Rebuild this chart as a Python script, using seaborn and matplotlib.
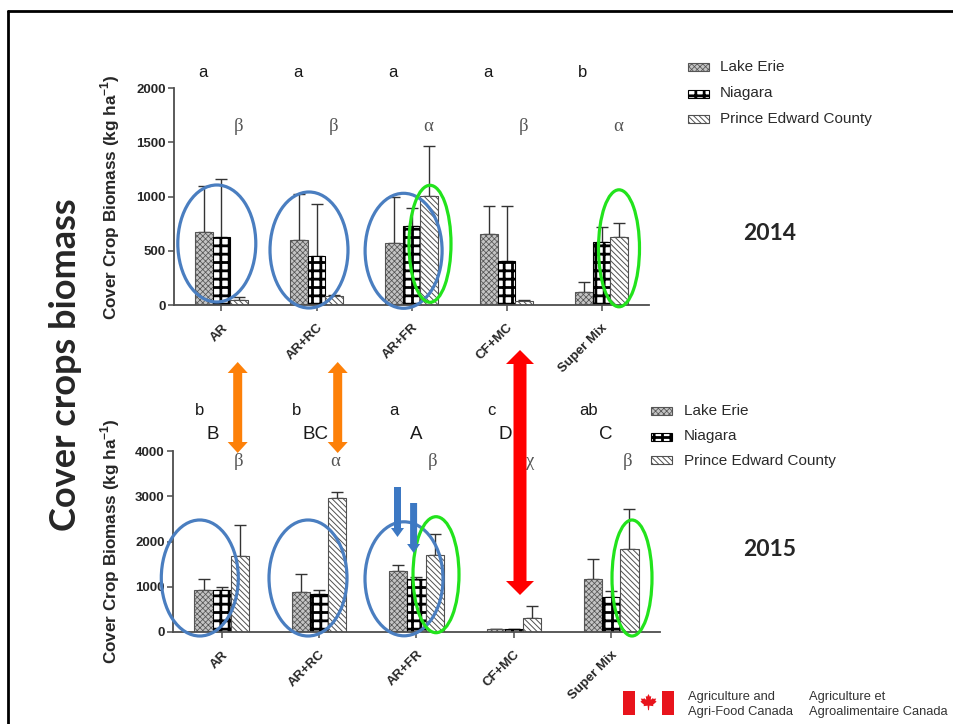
import numpy as np
import pandas as pd
import matplotlib
matplotlib.use("Agg")
import matplotlib.pyplot as plt
import seaborn as sns
from matplotlib.patches import Ellipse, Polygon, Rectangle

# ---------------- data ----------------
treatments = ["AR", "AR+RC", "AR+FR", "CF+MC", "Super Mix"]
locations = ["Lake Erie", "Niagara", "Prince Edward County"]

erie_2014 = [677, 600, 570, 655, 117]
niagara_2014 = [630, 455, 730, 410, 585]
pec_2014 = [46, 83, 1010, 37, 625]
erie_2014_sd = [423, 425, 424, 262, 98]
niagara_2014_sd = [530, 477, 162, 507, 138]
pec_2014_sd = [31, 10, 458, 5, 129]

erie_2015 = [937, 878, 1343, 59, 1166]
niagara_2015 = [922, 834, 1166, 59, 775]
pec_2015 = [1683, 2952, 1697, 310, 1845]
erie_2015_sd = [229, 406, 133, 10, 450]
niagara_2015_sd = [74, 103, 52, 10, 125]
pec_2015_sd = [679, 133, 473, 258, 863]

letters_2014 = ["a", "a", "a", "a", "b"]
greek_2014 = ["β", "β", "α", "β", "α"]
letters_2015 = ["b", "b", "a", "c", "ab"]
upper_2015 = ["B", "BC", "A", "D", "C"]
greek_2015 = ["β", "α", "β", "χ", "β"]

yticks_2014 = [0, 500, 1000, 1500, 2000]
yticks_2015 = [0, 1000, 2000, 3000, 4000]

# horizontal offsets of the 2015 upper-case letters (layout only)
upper_dx = [-0.09, -0.04, 0.0, -0.09, -0.06]

# ---------------- style ----------------
sns.set_style("white")
plt.rcParams["font.family"] = ["Liberation Sans", "DejaVu Sans"]
plt.rcParams["mathtext.fontset"] = "custom"
plt.rcParams["mathtext.rm"] = "Liberation Sans"
plt.rcParams["mathtext.bf"] = "Liberation Sans:bold"

W, H = 954, 724
fig = plt.figure(figsize=(W / 100, H / 100), dpi=100)
fig.patch.set_facecolor("white")


def fx(x):
    return x / W


def fy(y):
    return 1 - y / H


styles = [
    dict(fc="#c4c4c4", ec="#555555", hatch="xxxxxx", hlw=0.55),
    dict(fc="white", ec="black", hatch="++", hlw=2.0),
    dict(fc="white", ec="#505050", hatch="\\\\\\\\\\\\", hlw=0.7),
]


def style_patch(p, st):
    p.set_facecolor(st["fc"])
    p.set_edgecolor(st["ec"])
    p.set_hatch(st["hatch"])
    p.set_linewidth(0.8)
    if hasattr(p, "set_hatch_linewidth"):
        p.set_hatch_linewidth(st["hlw"])


def panel(ax, erie, nia, pec, sds, ymax, yticks):
    df = pd.DataFrame({
        "Treatment": treatments * 3,
        "Location": np.repeat(locations, len(treatments)),
        "Biomass": np.concatenate([erie, nia, pec]),
    })
    sns.barplot(data=df, x="Treatment", y="Biomass", hue="Location",
                order=treatments, hue_order=locations, width=0.56,
                errorbar=None, legend=False, ax=ax,
                palette=["#c4c4c4", "white", "white"])
    bar_conts = list(ax.containers)[:3]
    for i, cont in enumerate(bar_conts):
        for p in cont:
            style_patch(p, styles[i])
        xs = [p.get_x() + p.get_width() / 2 for p in cont]
        hs = [p.get_height() for p in cont]
        ax.errorbar(xs, hs, yerr=[np.zeros(len(hs)), sds[i]], fmt="none",
                    ecolor="#333333", elinewidth=1, capsize=4.5, capthick=1,
                    zorder=0.5)
    ax.set_xlim(-0.5, 4.5)
    ax.set_ylim(0, ymax)
    ax.set_yticks(yticks)
    ax.set_yticklabels([str(t) for t in yticks], fontweight="bold", fontsize=9.5)
    ax.set_xticks(range(len(treatments)))
    ax.set_xticklabels(treatments, rotation=45, ha="right",
                       rotation_mode="anchor", fontweight="bold", fontsize=9.5)
    ax.set_xlabel("")
    ax.set_ylabel(r"Cover Crop Biomass (kg ha$^{\mathbf{-1}}$)",
                  fontweight="bold", fontsize=12.3)
    for s in ["top", "right"]:
        ax.spines[s].set_visible(False)
    for s in ["left", "bottom"]:
        ax.spines[s].set_color("#4d4d4d")
        ax.spines[s].set_linewidth(1.3)
    ax.tick_params(axis="both", length=4, width=1.1, color="#4d4d4d",
                   left=True, bottom=True, pad=2)
    ax.tick_params(axis="x", pad=8)
    ax.set_facecolor("none")


# top panel (2014)
ax1 = fig.add_axes([fx(174), fy(305), fx(649) - fx(174), fy(88.3) - fy(305)])
panel(ax1, erie_2014, niagara_2014, pec_2014,
      [erie_2014_sd, niagara_2014_sd, pec_2014_sd], 2000, yticks_2014)
ax1.yaxis.set_label_coords((122 - 174) / 475, 0.5)

# bottom panel (2015)
ax2 = fig.add_axes([fx(173), fy(632), fx(660) - fx(173), fy(451) - fy(632)])
panel(ax2, erie_2015, niagara_2015, pec_2015,
      [erie_2015_sd, niagara_2015_sd, pec_2015_sd], 4000, yticks_2015)
ax2.yaxis.set_label_coords((122 - 173) / 487, 0.5)

# significance letters
serif = ["Liberation Serif", "DejaVu Serif"]
for i in range(len(treatments)):
    ax1.text(i - 0.2, 2150, letters_2014[i], ha="center", va="center",
             fontsize=12, color="#1a1a1a", clip_on=False)
    ax1.text(i + 0.18, 1643, greek_2014[i], ha="center", va="center",
             fontsize=13.5, color="#555555", family=serif, clip_on=False)
    ax2.text(i - 0.23, 4884, letters_2015[i], ha="center", va="center",
             fontsize=12, color="#1a1a1a", clip_on=False)
    ax2.text(i + upper_dx[i], 4354, upper_2015[i], ha="center", va="center",
             fontsize=13.5, color="#1a1a1a", clip_on=False)
    ax2.text(i + 0.17, 3779, greek_2015[i], ha="center", va="center",
             fontsize=13.5, color="#555555", family=serif, clip_on=False)

# legends (manual)
def legend(x_patch, x_text, ys):
    for i, (lab, y) in enumerate(zip(locations, ys)):
        r = Rectangle((fx(x_patch), fy(y + 4)), 21 / W, 8 / H,
                      transform=fig.transFigure)
        style_patch(r, styles[i])
        fig.add_artist(r)
        fig.text(fx(x_text), fy(y), lab, ha="left", va="center",
                 fontsize=11, color="#2a2a2a")


legend(688, 720, [67, 93.5, 118.5])
legend(651, 684, [411, 436.5, 460.5])

# ellipses (figure pixel coords)
blue = "#4a7ec0"
green = "#22e31c"
ellipses = [
    (216.8, 243.5, 78, 117, blue), (309, 250, 78, 116, blue),
    (403.6, 250.8, 77, 115, blue), (430, 243.8, 42, 117, green),
    (619, 248.3, 41, 117, green),
    (199.8, 578, 77, 116, blue), (308, 578, 78, 116, blue),
    (404, 578.8, 78, 114, blue), (436, 574.7, 46, 116, green),
    (632, 578, 40, 116, green),
]
for cx, cy, w, h, c in ellipses:
    fig.add_artist(Ellipse((fx(cx), fy(cy)), w / W, h / H, fill=False,
                           ec=c, lw=2.3, transform=fig.transFigure, zorder=5))


def arrow(cx, y0, y1, sw, hw, hl, color, double=True):
    if double:
        pts = [(cx, y0), (cx + hw, y0 + hl), (cx + sw, y0 + hl),
               (cx + sw, y1 - hl), (cx + hw, y1 - hl), (cx, y1),
               (cx - hw, y1 - hl), (cx - sw, y1 - hl), (cx - sw, y0 + hl),
               (cx - hw, y0 + hl)]
    else:
        pts = [(cx + sw, y0), (cx + sw, y1 - hl), (cx + hw, y1 - hl),
               (cx, y1), (cx - hw, y1 - hl), (cx - sw, y1 - hl), (cx - sw, y0)]
    fig.add_artist(Polygon([(fx(x), fy(y)) for x, y in pts], closed=True,
                           fc=color, ec="none", transform=fig.transFigure,
                           zorder=6))


arrow(237.7, 362, 453, 4.5, 10, 11, "#fd8008")
arrow(337.7, 362, 453, 4.5, 10, 11, "#fd8008")
arrow(520, 350, 595, 6.5, 14, 14, "#ff0000")
arrow(397.5, 487, 537, 3.5, 6.5, 9, "#3c78c3", double=False)
arrow(413.6, 503, 553, 3.5, 6.5, 9, "#3c78c3", double=False)

# slide texts
lato = ["Lato", "DejaVu Sans"]
fig.text(fx(66), fy(365), "Cover crops biomass", rotation=90, ha="center",
         va="center", fontsize=26, fontweight="bold", family=lato)
fig.text(fx(769.5), fy(233.5), "2014", ha="center", va="center", fontsize=16.5,
         fontweight="bold", family=lato)
fig.text(fx(769.5), fy(550), "2015", ha="center", va="center", fontsize=16.5,
         fontweight="bold", family=lato)

# slide border (top and left)
fig.add_artist(plt.Line2D([fx(8), 1], [fy(10.5), fy(10.5)], color="black",
                          lw=2, transform=fig.transFigure))
fig.add_artist(plt.Line2D([fx(8), fx(8)], [fy(10.5), 0], color="black",
                          lw=2, transform=fig.transFigure))

# footer: flag + department names
fig.add_artist(Rectangle((fx(623), fy(715)), 12 / W, 24 / H, fc="#e8141c",
                         ec="none", transform=fig.transFigure))
fig.add_artist(Rectangle((fx(662), fy(715)), 12 / W, 24 / H, fc="#e8141c",
                         ec="none", transform=fig.transFigure))
leaf = [(0, 1), (0.15, 0.7), (0.3, 0.78), (0.25, 0.35), (0.5, 0.55), (0.55, 0.45),
        (0.85, 0.5), (0.75, 0.25), (0.9, 0.15), (0.5, -0.2), (0.55, -0.35),
        (0.1, -0.3), (0.05, -0.8), (-0.05, -0.8), (-0.1, -0.3), (-0.55, -0.35),
        (-0.5, -0.2), (-0.9, 0.15), (-0.75, 0.25), (-0.85, 0.5), (-0.55, 0.45),
        (-0.5, 0.55), (-0.25, 0.35), (-0.3, 0.78), (-0.15, 0.7)]
fig.add_artist(Polygon([(fx(648.5 + 9 * a), fy(703 - 9 * b)) for a, b in leaf],
                       closed=True, fc="#e8141c", ec="none",
                       transform=fig.transFigure))
for x, t1, t2 in [(688, "Agriculture and", "Agri-Food Canada"),
                  (809, "Agriculture et", "Agroalimentaire Canada")]:
    fig.text(fx(x), fy(697), t1, ha="left", va="center", fontsize=9.3, color="#333333")
    fig.text(fx(x), fy(711.5), t2, ha="left", va="center", fontsize=9.3, color="#333333")

fig.savefig("out.png", dpi=100)
